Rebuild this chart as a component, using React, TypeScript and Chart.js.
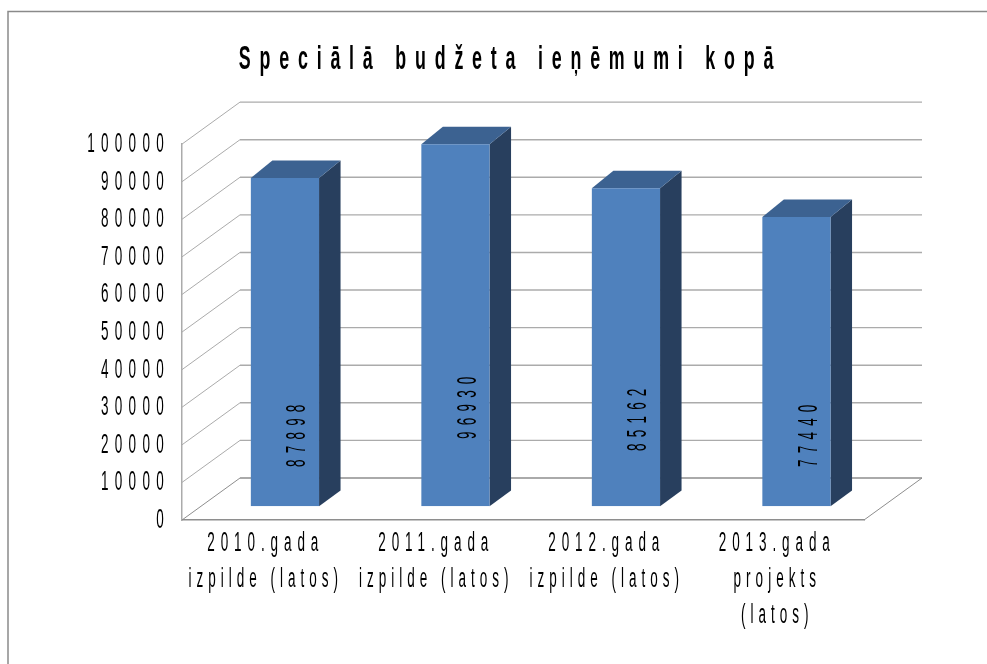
import React, { useEffect, useRef } from "react";
import { Chart, registerables } from "chart.js";

Chart.register(...registerables);

const categories = [
  ["2010.gada", "izpilde (latos)"],
  ["2011.gada", "izpilde (latos)"],
  ["2012.gada", "izpilde (latos)"],
  ["2013.gada", "projekts", "(latos)"],
];
const values = [87898, 96930, 85162, 77440];
const yMax = 100000;
const yStep = 10000;
const titleText = "Speciālā budžeta ieņēmumi kopā";

const FONT = "'Liberation Sans', Arial, sans-serif";
const BACK = { dx: 58, dy: -42 };
const BAR_OFFSET = { dx: 17.7, dy: -13.8 };
const BAR_DEPTH = { dx: 21.5, dy: -17.5 };
const BAR_SHRINK = 0.9933;
const LABEL_RISE = [72, 100, 88, 72];
const SIDE = "#283F5E";
const TOP = "#3C6291";
const FRONT = "#4F81BD";
const LINE = "#ABABAB";
const LINE_DARK = "#8E8E8E";

function squished(ctx: any, sx: number, spacing: (t: string) => number, fn: () => void) {
  const orig = ctx.fillText;
  ctx.save();
  ctx.fillText = function (t: string, x: number, y: number) {
    ctx.save();
    ctx.translate(x, y);
    ctx.scale(sx, 1);
    ctx.letterSpacing = spacing(t) / sx + "px";
    orig.call(ctx, t, 0, 0);
    ctx.restore();
  };
  try {
    fn();
  } finally {
    delete ctx.fillText;
    ctx.restore();
  }
}

const threeD = {
  id: "threeD",
  beforeDraw(chart: any) {
    const { ctx, width, height } = chart;
    ctx.save();
    ctx.fillStyle = "#fff";
    ctx.fillRect(0, 0, width, height);
    ctx.strokeStyle = "#8A8A8A";
    ctx.lineWidth = 1.5;
    ctx.beginPath();
    ctx.moveTo(8, height);
    ctx.lineTo(8, 11.5);
    ctx.lineTo(width, 11.5);
    ctx.stroke();
    ctx.restore();

    if (!chart.$patched) {
      chart.$patched = true;
      const wrap = (obj: any, name: string, sx: number, spacing: (t: string) => number, shift = 0) => {
        const o = obj[name];
        obj[name] = function (...a: any[]) {
          ctx.save();
          ctx.translate(shift, 0);
          squished(ctx, sx, spacing, () => o.apply(obj, a));
          ctx.restore();
        };
      };
      wrap(chart.scales.x, "drawLabels", 0.5, (t) => (/\d/.test(t) ? 5.9 : 5), -1.5);
      wrap(chart.scales.y, "drawLabels", 0.5, () => 6.3);
      wrap(chart.titleBlock, "draw", 0.54, () => 8.8, 43.5);
    }
  },
  beforeDatasetsDraw(chart: any) {
    const { ctx, scales } = chart;
    const { x, y } = scales;
    const L = x.left;
    const R = x.right;
    ctx.save();
    for (const t of y.ticks) {
      const py = y.getPixelForValue(t.value);
      ctx.strokeStyle = t.value === 0 ? LINE_DARK : LINE;
      ctx.lineWidth = 1;
      ctx.beginPath();
      ctx.moveTo(L, py);
      ctx.lineTo(L + BACK.dx, py + BACK.dy);
      ctx.stroke();
      ctx.lineWidth = 1.4;
      ctx.beginPath();
      ctx.moveTo(L + BACK.dx, py + BACK.dy);
      ctx.lineTo(R + BACK.dx, py + BACK.dy);
      ctx.stroke();
      if (t.value === 0) {
        ctx.lineWidth = 1;
        ctx.beginPath();
        ctx.moveTo(R + BACK.dx, py + BACK.dy);
        ctx.lineTo(R, py);
        ctx.stroke();
      }
    }
    ctx.restore();
    // side and top faces of the bars
    const meta = chart.getDatasetMeta(0);
    ctx.save();
    ctx.translate(BAR_OFFSET.dx, BAR_OFFSET.dy);
    for (const b of meta.data) {
      const l = b.x - b.width / 2;
      const r = b.x + b.width / 2;
      const top = b.base + (b.y - b.base) * BAR_SHRINK;
      ctx.fillStyle = SIDE;
      ctx.beginPath();
      ctx.moveTo(r, top);
      ctx.lineTo(r + BAR_DEPTH.dx, top + BAR_DEPTH.dy);
      ctx.lineTo(r + BAR_DEPTH.dx, b.base - 15.7);
      ctx.lineTo(r, b.base);
      ctx.closePath();
      ctx.fill();
      ctx.fillStyle = TOP;
      ctx.beginPath();
      ctx.moveTo(l, top);
      ctx.lineTo(l + BAR_DEPTH.dx, top + BAR_DEPTH.dy);
      ctx.lineTo(r + BAR_DEPTH.dx, top + BAR_DEPTH.dy);
      ctx.lineTo(r, top);
      ctx.closePath();
      ctx.fill();
    }
    ctx.restore();
  },
  beforeDatasetDraw(chart: any) {
    const { ctx, scales } = chart;
    const base = scales.y.getPixelForValue(0);
    ctx.save();
    ctx.translate(BAR_OFFSET.dx, BAR_OFFSET.dy + base);
    ctx.scale(1, BAR_SHRINK);
    ctx.translate(0, -base);
  },
  afterDatasetDraw(chart: any) {
    chart.ctx.restore();
  },
  afterDatasetsDraw(chart: any) {
    const { ctx } = chart;
    const meta = chart.getDatasetMeta(0);
    ctx.save();
    ctx.font = "27px " + FONT;
    ctx.fillStyle = "#000";
    ctx.textAlign = "center";
    ctx.textBaseline = "middle";
    meta.data.forEach((b: any, i: number) => {
      const cx = b.x + BAR_OFFSET.dx + 13;
      const cy = b.base + BAR_OFFSET.dy - LABEL_RISE[i];
      ctx.save();
      ctx.translate(cx, cy);
      ctx.rotate(-Math.PI / 2);
      ctx.scale(0.5, 1);
      ctx.letterSpacing = "12.4px";
      ctx.fillText(String(values[i]), 3, 0);
      ctx.restore();
    });
    ctx.restore();
  },
};

export default function App() {
  const ref = useRef<HTMLCanvasElement | null>(null);
  useEffect(() => {
    document.body.style.margin = "0";
    const chart = new Chart(ref.current as HTMLCanvasElement, {
      type: "bar",
      data: {
        labels: categories as any,
        datasets: [
          {
            label: titleText,
            data: values,
            backgroundColor: FRONT,
            barPercentage: 0.4,
            categoryPercentage: 1,
          },
        ],
      },
      plugins: [threeD],
      options: {
        animation: false,
        responsive: false,
        layout: { padding: { left: 70, right: 123, top: 40, bottom: 0 } },
        plugins: {
          legend: { display: false },
          tooltip: { enabled: false },
          title: {
            display: true,
            text: titleText,
            color: "#000",
            font: { family: FONT, size: 33, weight: "bold" },
            padding: { top: 0, bottom: 64.5 },
          },
        },
        scales: {
          x: {
            afterFit: (s: any) => {
              s.height = 144;
            },
            grid: { display: false },
            border: { display: true, color: LINE_DARK, width: 1.5 },
            ticks: {
              color: "#000",
              font: { family: FONT, size: 27, lineHeight: 1.33 },
              padding: -2,
              maxRotation: 0,
              autoSkip: false,
            },
          },
          y: {
            min: 0,
            max: yMax,
            afterFit: (s: any) => {
              s.width = 112;
            },
            grid: { display: false },
            border: { display: true, color: LINE, width: 1.5 },
            ticks: {
              stepSize: yStep,
              color: "#000",
              padding: 4,
              labelOffset: 0.5,
              font: { family: FONT, size: 27 },
              callback: (v: any) => String(v),
            },
          },
        },
      } as any,
    });
    return () => chart.destroy();
  }, []);
  return (
    <div style={{ width: 987, height: 664, overflow: "hidden" }}>
      <canvas ref={ref} width={987} height={664} style={{ display: "block" }} />
    </div>
  );
}
